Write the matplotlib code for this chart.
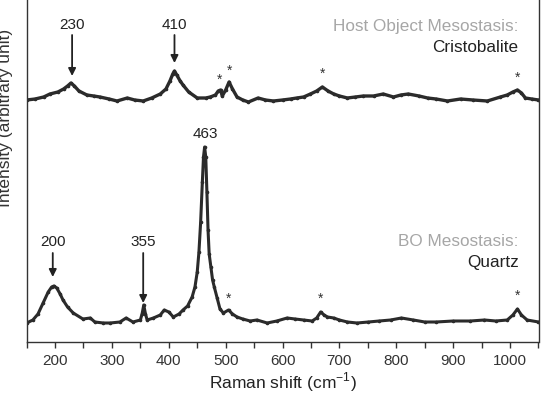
import matplotlib
matplotlib.use("Agg")
import matplotlib.pyplot as plt
from matplotlib.ticker import MultipleLocator

plt.rcParams['font.family'] = ['Liberation Sans', 'DejaVu Sans']

# Raman spectra (shift in cm-1, intensity in arbitrary units)
# Host object mesostasis (cristobalite), upper trace
host_x = [150, 165, 180, 191, 205, 215, 222, 228, 234, 242, 256, 268, 279, 295, 309,
          327, 340, 355, 370, 385, 395, 402, 407, 410, 414, 420, 425, 435, 450, 465,
          473, 482, 487, 491, 494, 500, 506, 512, 520, 530, 540, 557, 570, 584, 600,
          614, 625, 637, 649, 660, 670, 680, 690, 700, 714, 728, 742, 760, 777, 795,
          808, 821, 840, 855, 870, 890, 913, 935, 960, 983, 995, 1005, 1013, 1020,
          1027, 1038, 1050]
host_y = [242, 243, 245, 248, 250, 253, 256, 259, 256, 251, 247, 246, 245, 243, 241,
          244, 242, 241, 244, 248, 253, 261, 268, 271, 267, 261, 257, 250, 244, 244,
          245, 247, 251, 252, 246, 252, 260, 253, 245, 242, 240, 244, 242, 241, 242,
          243, 244, 245, 248, 251, 255, 251, 248, 246, 244, 245, 246, 246, 248, 245,
          247, 248, 246, 244, 243, 241, 243, 242, 241, 245, 247, 250, 252, 249,
          244, 243, 242]

# BO mesostasis (quartz), lower trace
bo_x = [150, 161, 170, 179, 188, 194, 198, 203, 209, 214, 222, 232, 249, 262, 270,
        285, 297, 314, 325, 337, 350, 353, 356, 359, 362, 373, 385, 392, 400, 408,
        418, 425, 433, 441, 446, 450, 453, 456, 459, 461, 463, 465, 467, 469, 471,
        474, 477, 480, 485, 490, 496, 505, 512, 520, 530, 543, 555, 573, 590, 608,
        622, 637, 652, 660, 667, 673, 679, 690, 700, 714, 731, 751, 770, 790, 809,
        830, 850, 870, 900, 930, 955, 975, 995, 1005, 1013, 1020, 1030, 1050]
bo_y = [19, 22, 28, 39, 50, 55, 56, 54, 48, 42, 35, 29, 23, 24, 20,
        19, 19, 20, 24, 20, 22, 28, 37, 28, 22, 24, 27, 32, 30, 25,
        28, 32, 36, 45, 55, 70, 90, 120, 160, 185, 195, 185, 150, 112, 88,
        75, 62, 55, 44, 33, 29, 32, 28, 25, 23, 21, 22, 19, 21, 24,
        23, 22, 21, 24, 30, 27, 25, 24, 22, 20, 19, 20, 21, 22, 24,
        22, 20, 20, 21, 21, 22, 21, 22, 27, 33, 27, 22, 20]

# peak labels: (position, text y, arrow start, arrow tip)
peak_pos = [230, 410, 196, 355]
peak_text = ["230", "410", "200", "355"]
peak_arrows = [(317, 307, 266), (317, 307, 279), (100, 89, 65), (100, 89, 39)]
host_stars = [(490, 262), (506, 271), (670, 268), (1013, 264)]
bo_stars = [(505, 43), (666, 43), (1013, 46)]

fig = plt.figure(figsize=(5.46, 3.94), dpi=100)
ax = fig.add_axes([26.6 / 546, 1 - 342 / 394, (538.5 - 26.6) / 546, 342 / 394])

line_c = '#2b2b2b'
ax.plot(host_x, host_y, color=line_c, lw=2.4, marker='o', ms=1.6, solid_joinstyle='round')
ax.plot(bo_x, bo_y, color=line_c, lw=2.2, marker='o', ms=1.6, solid_joinstyle='round')

for xp, lab, (ty, y0, y1) in zip(peak_pos, peak_text, peak_arrows):
    ax.text(xp, ty, lab, ha='center', va='center', fontsize=11, color='#222222')
    ax.annotate("", xy=(xp, y1), xytext=(xp, y0),
                arrowprops=dict(arrowstyle='-|>', color='#222222', lw=1.3,
                                mutation_scale=11, shrinkA=0, shrinkB=0))

ax.text(464, 208, "463", ha='center', va='center', fontsize=11, color='#222222')

for xs, ys in host_stars + bo_stars:
    ax.text(xs, ys, "*", ha='center', va='center', fontsize=10, color='#333333')

ax.text(1015, 315, "Host Object Mesostasis:", ha='right', va='center', fontsize=12.3, color='#a6a6a6')
ax.text(1015, 294, "Cristobalite", ha='right', va='center', fontsize=12.3, color='#222222')
ax.text(1015, 101, "BO Mesostasis:", ha='right', va='center', fontsize=12.3, color='#a6a6a6')
ax.text(1015, 80, "Quartz", ha='right', va='center', fontsize=12.3, color='#222222')

ax.set_xlim(150, 1050)
ax.set_ylim(0, 342)
ax.xaxis.set_major_locator(MultipleLocator(100))
ax.xaxis.set_minor_locator(MultipleLocator(50))
ax.set_xticks([200, 300, 400, 500, 600, 700, 800, 900, 1000])
ax.set_yticks([])
ax.tick_params(axis='x', which='both', direction='out', length=4.5, width=1, colors='#333333',
               labelsize=11, pad=4)
ax.spines['top'].set_visible(False)
for s in ['left', 'right', 'bottom']:
    ax.spines[s].set_color('#333333')
    ax.spines[s].set_linewidth(1.0)

ax.set_xlabel("Raman shift (cm$^{\\mathregular{-1}}$)", fontsize=12.5, color='#222222', labelpad=2)
fig.text(6 / 546, 1 - 118 / 394, "Intensity (arbitrary unit)", rotation=90,
         ha='center', va='center', fontsize=12.5, color='#333333')

fig.savefig("out.png", dpi=100)
